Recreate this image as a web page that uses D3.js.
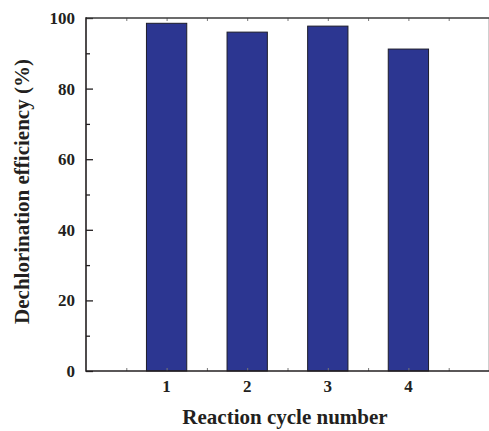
<!DOCTYPE html>
<html>
<head>
<meta charset="utf-8">
<script src="https://cdn.jsdelivr.net/npm/d3@7"></script>
<style>
  html, body { margin: 0; padding: 0; background: #fff; }
  svg { display: block; }
  text { font-family: "Liberation Serif", "Times New Roman", serif; font-weight: bold; fill: #231f20; }
</style>
</head>
<body>
<svg id="chart" width="489" height="431"></svg>
<script>
const cycles = [1, 2, 3, 4];
const efficiency = [98.5, 96.0, 97.7, 91.2];
const yTicks = [0, 20, 40, 60, 80, 100];
const xTicks = [1, 2, 3, 4];

const width = 489, height = 431;
const mLeft = 86, mRight = 488.5, mTop = 18, mBottom = 371;

const svg = d3.select("#chart");

const x = d3.scaleLinear().domain([0, 5]).range([mLeft, mRight + 0.5]);
const y = d3.scaleLinear().domain([0, 100]).range([mBottom, mTop]);

// bars
svg
  .append("g")
  .selectAll("rect")
  .data(cycles)
  .enter()
  .append("rect")
  .attr("x", function (d) {
    return x(d - 0.25);
  })
  .attr("width", function (d) {
    return x(d + 0.25) - x(d - 0.25);
  })
  .attr("y", function (d, i) {
    return y(efficiency[i]);
  })
  .attr("height", function (d, i) {
    return y(0) - y(efficiency[i]);
  })
  .attr("fill", "#2c3691")
  .attr("stroke", "#1c1c2a")
  .attr("stroke-width", 1);

// frame
svg
  .append("line")
  .attr("x1", mRight).attr("x2", mRight)
  .attr("y1", mTop).attr("y2", mBottom)
  .attr("stroke", "#cfcfcf").attr("stroke-width", 1);

// left axis
const yAxis = d3.axisRight(y).tickValues(yTicks).tickSize(7).tickFormat("");
svg.append("g").attr("transform", `translate(${mLeft},0)`).call(yAxis)
  .call(g => g.select(".domain").remove());
const yMinor = d3.axisRight(y).tickValues([10, 30, 50, 70, 90]).tickSize(4).tickFormat("");
svg.append("g").attr("transform", `translate(${mLeft},0)`).call(yMinor)
  .call(g => g.select(".domain").remove());

svg.selectAll(".tick line").attr("stroke", "#231f20").attr("stroke-width", 1.3);

svg
  .append("g")
  .selectAll("text")
  .data(yTicks)
  .enter()
  .append("text")
  .attr("x", mLeft - 11)
  .attr("y", function (d) {
    return y(d);
  })
  .attr("dy", "0.35em")
  .attr("text-anchor", "end")
  .attr("font-size", 17)
  .text(function (d) {
    return d;
  });

// bottom & top axes
const xHalf = d3.range(0.5, 5, 0.5);
const xb = d3.axisTop(x).tickValues(xHalf).tickSize(3).tickFormat("");
svg.append("g").attr("transform", `translate(0,${mBottom})`).call(xb)
  .call(g => g.select(".domain").remove())
  .selectAll(".tick line").attr("stroke", "#777").attr("stroke-width", 1);
const xt = d3.axisBottom(x).tickValues(xHalf).tickSize(3).tickFormat("");
svg.append("g").attr("transform", `translate(0,${mTop})`).call(xt)
  .call(g => g.select(".domain").remove())
  .selectAll(".tick line").attr("stroke", "#777").attr("stroke-width", 1);

svg.append("line").attr("x1", mLeft).attr("x2", width).attr("y1", mBottom).attr("y2", mBottom)
  .attr("stroke", "#231f20").attr("stroke-width", 1.6);
svg.append("line").attr("x1", mLeft).attr("x2", width).attr("y1", mTop).attr("y2", mTop)
  .attr("stroke", "#3a3a3a").attr("stroke-width", 1.4);
svg.append("line").attr("x1", mLeft).attr("x2", mLeft).attr("y1", mTop - 0.7).attr("y2", mBottom + 0.8)
  .attr("stroke", "#231f20").attr("stroke-width", 1.6);

svg
  .append("g")
  .selectAll("text")
  .data(xTicks)
  .enter()
  .append("text")
  .attr("x", function (d) {
    return x(d);
  })
  .attr("y", 392)
  .attr("text-anchor", "middle")
  .attr("font-size", 17)
  .text(function (d) {
    return d;
  });

// titles
svg.append("text")
  .attr("x", 285)
  .attr("y", 424)
  .attr("text-anchor", "middle")
  .attr("font-size", 21)
  .text("Reaction cycle number");

svg.append("text")
  .attr("transform", "translate(29,191.5) rotate(-90)")
  .attr("text-anchor", "middle")
  .attr("font-size", 21)
  .text("Dechlorination efficiency (%)");
</script>
</body>
</html>
